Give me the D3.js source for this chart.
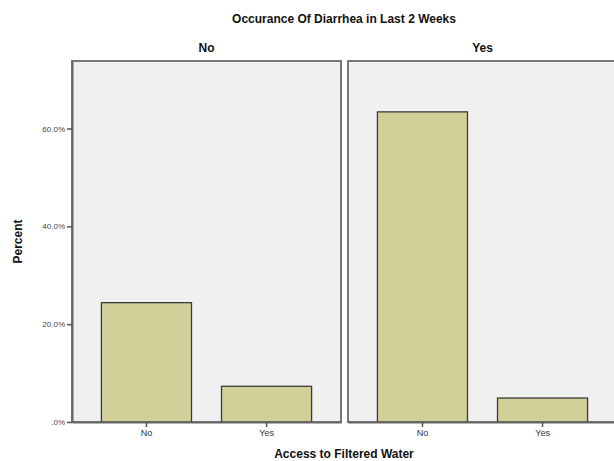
<!DOCTYPE html>
<html><head><meta charset="utf-8">
<script src="https://cdn.jsdelivr.net/npm/d3@7/dist/d3.min.js"></script>
<style>body{margin:0;background:#fff}svg{display:block}text{font-family:Arial,"Liberation Sans",sans-serif}</style>
</head><body><svg id="c" width="614" height="461"></svg>
<script>
const facets = ["No", "Yes"];
const categories = ["No", "Yes"];
const values = { "No": [24.4, 7.3], "Yes": [63.4, 4.9] };
const yTicks = [0, 20, 40, 60];
const title = "Occurance Of Diarrhea in Last 2 Weeks";
const xTitle = "Access to Filtered Water";
const yTitle = "Percent";

const svg = d3.select("#c");
const pTop = 61, pBottom = 422, left0 = 72, pw = 269, gap = 7;
const y = d3.scaleLinear().domain([0, 73.8]).range([pBottom, pTop]);
const fx = d3.scaleOrdinal().domain(facets).range([left0, left0 + pw + gap]);

svg.append("text").attr("x", 344).attr("y", 23).attr("text-anchor", "middle")
  .attr("font-size", 12).attr("font-weight", "bold").attr("fill", "#111").text(title);

facets.forEach(f => {
  const x0 = fx(f);
  const g = svg.append("g");
  g.append("rect").attr("x", x0).attr("y", pTop).attr("width", pw).attr("height", pBottom - pTop)
    .attr("fill", "#f0f0f0").attr("stroke", "#777").attr("stroke-width", 2);
  g.append("text").attr("x", x0 + pw / 2).attr("y", 52).attr("text-anchor", "middle")
    .attr("font-size", 12).attr("font-weight", "bold").attr("fill", "#111").text(f);
  const x = d3.scaleBand().domain(categories).range([x0, x0 + pw]).paddingInner(0.25).paddingOuter(0.245);
  g.selectAll(".bar").data(values[f]).join("rect")
    .attr("x", (d, i) => x(categories[i])).attr("width", x.bandwidth())
    .attr("y", d => y(d)).attr("height", d => pBottom - y(d))
    .attr("fill", "#d3cf98").attr("stroke", "#3a3a3a").attr("stroke-width", 1.3);
  const ax = g.append("g").attr("transform", `translate(0,${pBottom})`)
    .call(d3.axisBottom(x).tickSize(5).tickSizeOuter(0).tickPadding(3));
  ax.select(".domain").attr("stroke", "#666").attr("stroke-width", 2);
  ax.selectAll(".tick line").attr("stroke", "#555").attr("stroke-width", 1.5);
  ax.selectAll(".tick text").attr("font-size", 9).attr("fill", "#333").attr("font-family", "Arial,'Liberation Sans',sans-serif");
});

const ay = svg.append("g").attr("transform", `translate(${left0},0)`)
  .call(d3.axisLeft(y).tickValues(yTicks).tickSize(5).tickSizeOuter(0).tickPadding(2)
    .tickFormat(d => d === 0 ? ".0%" : d.toFixed(1) + "%"));
ay.select(".domain").attr("stroke", "#666").attr("stroke-width", 2);
ay.selectAll(".tick line").attr("stroke", "#555").attr("stroke-width", 1.5);
ay.selectAll(".tick text").attr("font-size", 8).attr("fill", "#444").attr("font-family", "Arial,'Liberation Sans',sans-serif");

svg.append("text").attr("x", 344).attr("y", 458).attr("text-anchor", "middle")
  .attr("font-size", 12).attr("font-weight", "bold").attr("fill", "#111").text(xTitle);
svg.append("text").attr("transform", `translate(22,${(pTop + pBottom) / 2}) rotate(-90)`)
  .attr("text-anchor", "middle").attr("font-size", 12).attr("font-weight", "bold").attr("fill", "#111").text(yTitle);
</script></body></html>
